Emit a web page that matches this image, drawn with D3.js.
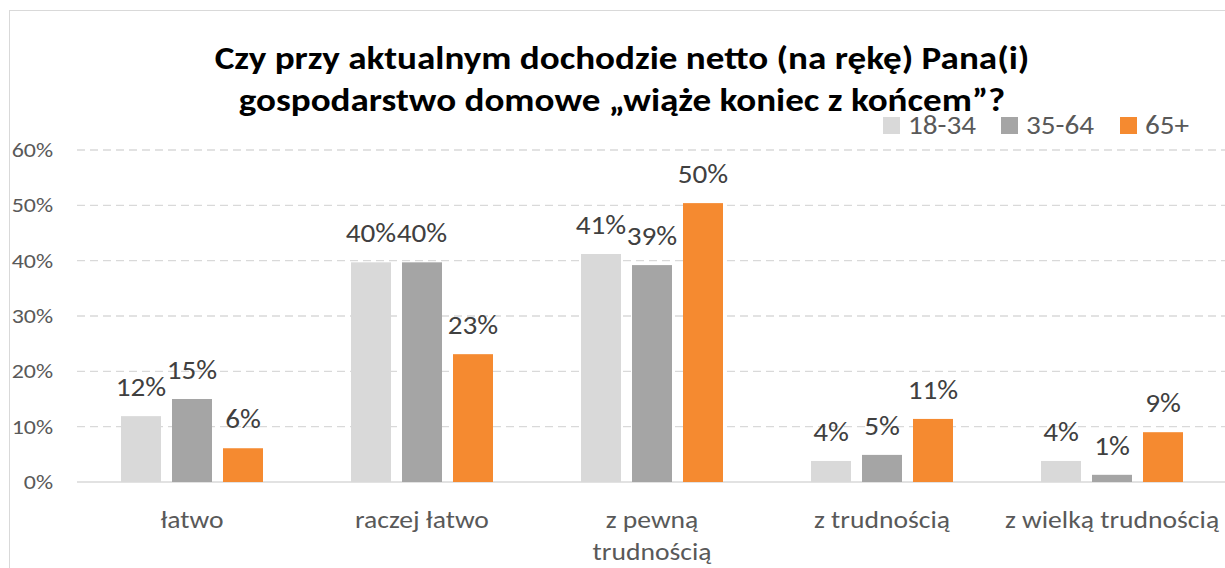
<!DOCTYPE html>
<html>
<head>
<meta charset="utf-8">
<script src="https://cdn.jsdelivr.net/npm/d3@7"></script>
<style>
  body { margin: 0; background: #fff; }
  svg { display: block; font-family: Carlito, "Liberation Sans", Arial, sans-serif; }
</style>
</head>
<body>
<svg id="svg" width="1225" height="568"></svg>
<script>
var categories = ["łatwo", "raczej łatwo", "z pewną trudnością", "z trudnością", "z wielką trudnością"];
var series = ["18-34", "35-64", "65+"];
var colors = ["#d9d9d9", "#a5a5a5", "#f58a30"];
var v18_34 = [11.9, 39.7, 41.2, 3.8, 3.8];
var v35_64 = [15.0, 39.7, 39.2, 4.9, 1.3];
var v65 = [6.1, 23.1, 50.4, 11.4, 9.0];
var yTicks = [0, 10, 20, 30, 40, 50, 60];
var catLines = [["łatwo"], ["raczej łatwo"], ["z pewną", "trudnością"], ["z trudnością"], ["z wielką trudnością"]];

var values = [v18_34, v35_64, v65];

var svg = d3.select("#svg");

// text squeezed/stretched sideways like the original (Calibri rendered wide)
function addText(parent, x, y, str, size, sx, anchor, fill, weight){
  return parent.append("text")
    .attr("transform", "translate(" + x + "," + y + ") scale(" + sx + ",1)")
    .attr("text-anchor", anchor || "start")
    .attr("font-size", size)
    .attr("font-weight", weight || "normal")
    .attr("fill", fill)
    .text(str);
}

// frame
svg.append("rect").attr("x", 9.5).attr("y", 10.5).attr("width", 1230).attr("height", 570)
  .attr("fill", "none").attr("stroke", "#d9d9d9");

var x = d3.scaleBand().domain(categories).range([77, 1227]);
var y = d3.scaleLinear().domain([0, 60]).range([482, 150]);

// gridlines
svg.selectAll(".grid").data(yTicks.filter(function(t){ return t > 0; })).enter()
  .append("line")
  .attr("x1", 77).attr("x2", 1225)
  .attr("y1", function(d){ return y(d); }).attr("y2", function(d){ return y(d); })
  .attr("stroke", "#d9d9d9").attr("stroke-width", 1.3).attr("stroke-dasharray", "8,5");

svg.append("line").attr("x1", 77).attr("x2", 1225).attr("y1", y(0)).attr("y2", y(0))
  .attr("stroke", "#d9d9d9").attr("stroke-width", 1.3);

// y tick labels
yTicks.forEach(function(t){
  addText(svg, 53, y(t) + 7, t + "%", 21, 1.14, "end", "#595959");
});

var barW = 40, gap = 11;
var inner = d3.scaleBand().domain(series).range([0, 3 * barW + 2 * gap]).paddingInner(gap / (barW + gap));

series.forEach(function(s, si){
  var g = svg.append("g");
  var rows = categories.map(function(c, ci){ return { c: c, v: values[si][ci] }; });
  g.selectAll("rect").data(rows).enter().append("rect")
    .attr("x", function(d){ return x(d.c) + x.bandwidth() / 2 - 71 + inner(s); })
    .attr("width", inner.bandwidth())
    .attr("y", function(d){ return y(d.v); })
    .attr("height", function(d){ return y(0) - y(d.v); })
    .attr("fill", colors[si]);
  rows.forEach(function(d){
    var cx = x(d.c) + x.bandwidth() / 2 - 71 + inner(s) + inner.bandwidth() / 2;
    addText(g, cx, y(d.v) - 20, Math.round(d.v) + "%", 27, 1.08, "middle", "#404040");
  });
});

// category labels
categories.forEach(function(c, ci){
  catLines[ci].forEach(function(line, li){
    addText(svg, x(c) + x.bandwidth() / 2, 528 + li * 32, line, 24, 1.15, "middle", "#595959");
  });
});

// title
addText(svg, 622, 69, "Czy przy aktualnym dochodzie netto (na rękę) Pana(i)", 32, 1.16, "middle", "#000", "bold");
addText(svg, 622, 111, "gospodarstwo domowe „wiąże koniec z końcem”?", 32, 1.16, "middle", "#000", "bold");

// legend
var legX = [883, 1001, 1120];
series.forEach(function(s, si){
  svg.append("rect").attr("x", legX[si]).attr("y", 117).attr("width", 17).attr("height", 17).attr("fill", colors[si]);
  addText(svg, legX[si] + 25, 134, s, 27, 1.08, "start", "#595959");
});
</script>
</body>
</html>
